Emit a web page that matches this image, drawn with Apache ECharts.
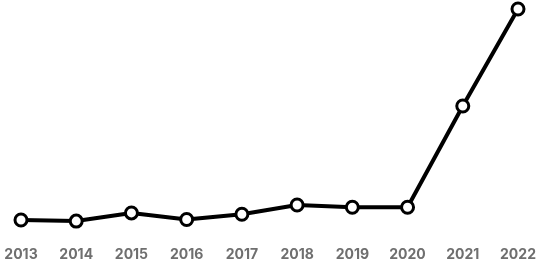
<!DOCTYPE html>
<html><head><meta charset="utf-8">
<script src="https://cdn.jsdelivr.net/npm/echarts@6/dist/echarts.min.js"></script>
<style>html,body{margin:0;padding:0;background:#fff}#c{width:541px;height:270px}</style>
</head><body><div id="c"></div>
<script>
const years = ['2013','2014','2015','2016','2017','2018','2019','2020','2021','2022'];
const values = [4.1, 3.6, 7.3, 4.3, 6.7, 10.9, 9.9, 9.9, 55.9, 100];
const chart = echarts.init(document.getElementById('c'));
chart.setOption({
  animation: false,
  grid: {left: 21, right: 23, top: 9, bottom: 41},
  xAxis: {
    type: 'category', data: years, boundaryGap: false,
    axisLine: {show: false}, axisTick: {show: false},
    axisLabel: {margin: 19, color: '#6f6f6f', fontFamily: 'Inter', fontWeight: 700, fontSize: 14}
  },
  yAxis: {type: 'value', min: 0, max: 100, show: false, splitLine: {show: false}},
  series: [{
    type: 'line', data: values,
    symbol: 'circle', symbolSize: 12,
    lineStyle: {color: '#000', width: 4},
    itemStyle: {color: '#fff', borderColor: '#000', borderWidth: 3}
  }]
});
</script></body></html>
